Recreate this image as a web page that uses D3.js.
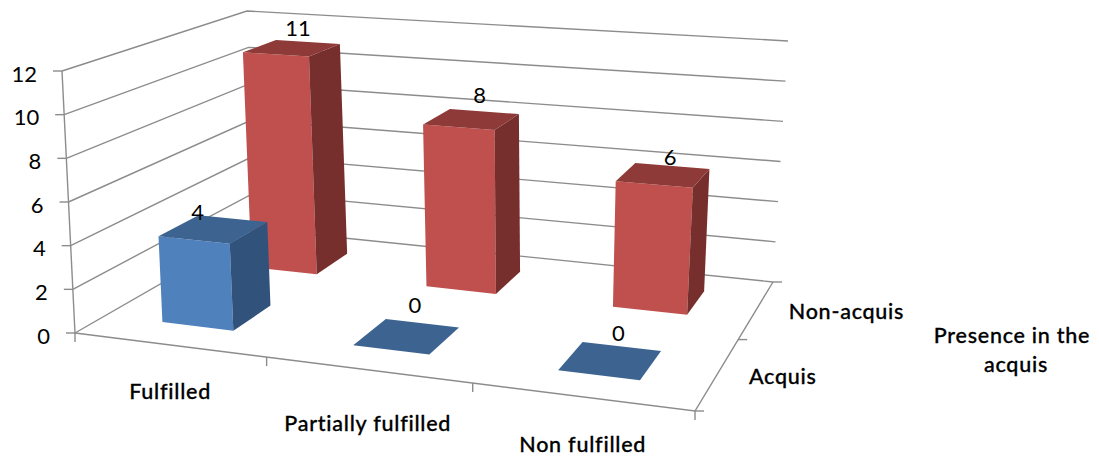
<!DOCTYPE html>
<html>
<head>
<meta charset="utf-8">
<script src="https://cdn.jsdelivr.net/npm/d3@7/dist/d3.min.js"></script>
<style>
  html, body { margin: 0; background: #fff; }
  svg { display: block; }
  text { font-family: Lato, "Open Sans", sans-serif; fill: #000; }
</style>
</head>
<body>
<svg id="chart" width="1099" height="457"></svg>
<script>
// Chart content
const categories = ["Fulfilled", "Partially fulfilled", "Non fulfilled"];
const seriesNames = ["Acquis", "Non-acquis"];
const acquisValues = [4, 0, 0];
const nonAcquisValues = [11, 8, 6];
const valueTicks = [0, 2, 4, 6, 8, 10, 12];
const depthTitle = ["Presence in the", "acquis"];

// Face colours per series: front, side, top
const seriesColors = {
  "Acquis": ["#4f81bd", "#31527b", "#3d6491"],
  "Non-acquis": ["#c0504d", "#772f2d", "#8e3a38"]
};
const gridColor = "#8c8c8c";

const svg = d3.select("#chart");

// Box corners on screen, as [x, y]: front-left, front-right, back-right, back-left
const floorQuad = [[75, 333], [695, 411], [773, 282], [256, 229]];
const ceilQuad = [[62, 71], [716, 120], [788, 41], [247, 11]];

// Projective map from the unit square onto a quadrilateral
function homography(q) {
  const [[x0, y0], [x1, y1], [x2, y2], [x3, y3]] = q;
  const dx1 = x1 - x2, dx2 = x3 - x2, sx = x0 - x1 + x2 - x3;
  const dy1 = y1 - y2, dy2 = y3 - y2, sy = y0 - y1 + y2 - y3;
  const den = dx1 * dy2 - dx2 * dy1;
  const g = (sx * dy2 - dx2 * sy) / den;
  const h = (dx1 * sy - sx * dy1) / den;
  const a = x1 - x0 + g * x1, b = x3 - x0 + h * x3;
  const d = y1 - y0 + g * y1, e = y3 - y0 + h * y3;
  return (u, w) => {
    const k = g * u + h * w + 1;
    return [(a * u + b * w + x0) / k, (d * u + e * w + y0) / k];
  };
}
const floorMap = homography(floorQuad);
const ceilMap = homography(ceilQuad);

// Scales: value to height fraction, category along the width, series into the depth
const valueScale = d3.scaleLinear().domain([0, 12]).range([0, 1]);
const catScale = d3.scaleBand().domain(categories).range([0, 1]).paddingInner(0.62).paddingOuter(0.31);
const serScale = d3.scaleBand().domain(seriesNames).range([0, 1]).paddingInner(0.58).paddingOuter(0.29);

function project(u, value, w) {
  const t = valueScale(value);
  const f = floorMap(u, w), c = ceilMap(u, w);
  return [f[0] + (c[0] - f[0]) * t, f[1] + (c[1] - f[1]) * t];
}

const line = d3.line();
const gridLayer = svg.append("g").attr("fill", "none").attr("stroke", gridColor).attr("stroke-width", 1.4);
const addPath = pts => gridLayer.append("path").attr("d", line(pts));

// Wall gridlines
valueTicks.forEach(v => {
  addPath([project(0, v, 0), project(0, v, 1), project(1, v, 1)]);
});

// Axis lines and tick marks
addPath([project(0, 0, 0), project(0, 12, 0)]);
addPath([project(0, 0, 0), project(1, 0, 0), project(1, 0, 1)]);
valueTicks.forEach(v => {
  const p = project(0, v, 0);
  addPath([[p[0] - 9, p[1]], p]);
});
d3.range(0, 4).forEach(i => {
  const p = project(i / 3, 0, 0);
  addPath([p, [p[0], p[1] + 9]]);
});
d3.range(0, 3).forEach(i => {
  const p = project(1, 0, i / 2);
  addPath([p, [p[0] + 9, p[1]]]);
});

// Bars: back row first so the front row overlaps it
const rows = [
  { name: "Non-acquis", values: nonAcquisValues },
  { name: "Acquis", values: acquisValues }
];
const barLayer = svg.append("g");
const labelLayer = svg.append("g");
// Label shifts relative to the centre of each bar's top face
const labelShift = {
  "Non-acquis": [[6, -21], [8, -25], [7, -19]],
  "Acquis": [[-16, -18], [8, -32], [8, -28]]
};

rows.forEach(row => {
  const [front, side, top] = seriesColors[row.name];
  const w0 = serScale(row.name), w1 = w0 + serScale.bandwidth();
  row.values.forEach((value, i) => {
    const u0 = catScale(categories[i]), u1 = u0 + catScale.bandwidth();
    const g = barLayer.append("g");
    const face = (pts, fill) => g.append("path").attr("d", line(pts) + "Z").attr("fill", fill);
    if (value > 0) {
      face([project(u0, 0, w0), project(u1, 0, w0), project(u1, value, w0), project(u0, value, w0)], front);
      face([project(u1, 0, w0), project(u1, 0, w1), project(u1, value, w1), project(u1, value, w0)], side);
    }
    face([project(u0, value, w0), project(u1, value, w0), project(u1, value, w1), project(u0, value, w1)], top);
    const c = project((u0 + u1) / 2, value, (w0 + w1) / 2);
    const s = labelShift[row.name][i];
    labelLayer.append("text")
      .attr("x", c[0] + s[0]).attr("y", c[1] + s[1])
      .attr("text-anchor", "middle").attr("dominant-baseline", "central")
      .attr("font-size", 22).text(value);
  });
});

// Value axis labels
const textLayer = svg.append("g");
valueTicks.forEach(v => {
  const p = project(0, v, 0);
  textLayer.append("text")
    .attr("x", p[0] - 25).attr("y", p[1] + 2)
    .attr("text-anchor", "end").attr("dominant-baseline", "central")
    .attr("font-size", 22).text(v);
});

// Category and series labels
const boldText = (x, y, str) => textLayer.append("text")
  .attr("x", x).attr("y", y)
  .attr("text-anchor", "middle").attr("dominant-baseline", "central")
  .attr("font-size", 21.5).attr("font-weight", 500).attr("letter-spacing", 0.75)
  .attr("stroke", "#000").attr("stroke-width", 0.3).text(str);

categories.forEach((c, i) => {
  const p = project(catScale(c) + catScale.bandwidth() / 2, 0, 0);
  boldText(p[0] + [1, 0, 1][i], p[1] + [46, 53, 47][i], c);
});
seriesNames.forEach((n, i) => {
  const p = project(1, 0, serScale(n) + serScale.bandwidth() / 2);
  boldText(p[0] + [65, 90][i], p[1] + [3, 2][i], n);
});
depthTitle.forEach((t, i) => boldText([1012, 1016][i], 335 + i * 29, t));
</script>
</body>
</html>
